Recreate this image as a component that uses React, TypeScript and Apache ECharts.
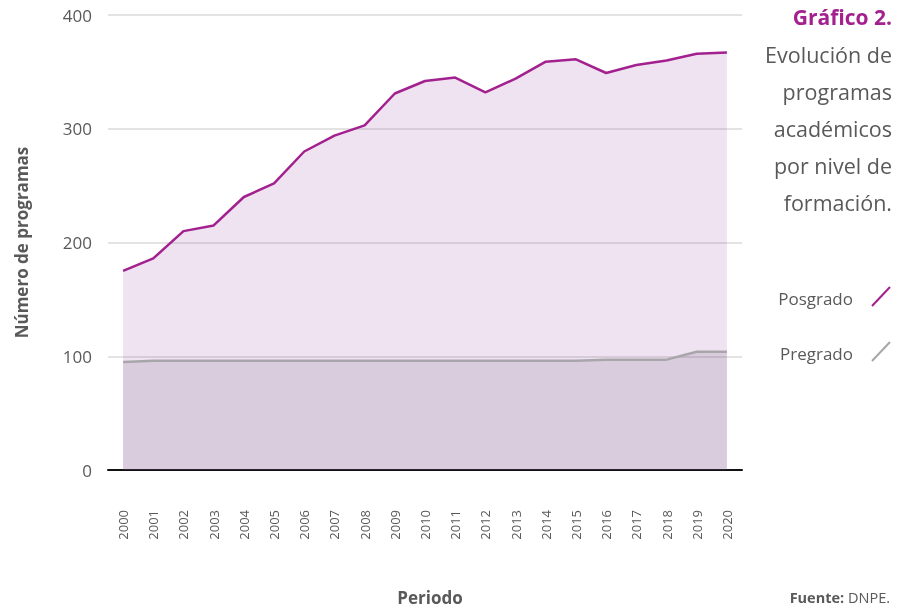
import React, { useEffect, useRef } from "react";
import * as echarts from "echarts";

const years = ["2000","2001","2002","2003","2004","2005","2006","2007","2008","2009","2010","2011","2012","2013","2014","2015","2016","2017","2018","2019","2020"];
const posgrado = [175, 186, 210, 215, 240, 252, 280, 294, 303, 331, 342, 345, 332, 344, 359, 361, 349, 356, 360, 366, 367];
const pregrado = [95, 96, 96, 96, 96, 96, 96, 96, 96, 96, 96, 96, 96, 96, 96, 96, 97, 97, 97, 104, 104];
const yMin = 0;
const yMax = 400;
const yInterval = 100;

const titleText = "Gráfico 2.";
const subtitleLines = ["Evolución de", "programas", "académicos", "por nivel de", "formación."];
const legendNames = ["Posgrado", "Pregrado"];
const xAxisName = "Periodo";
const yAxisName = "Número de programas";

const FONT = "'Open Sans', 'Noto Sans', sans-serif";
const MAGENTA = "#a3218e";
const GRAY = "#a9a6ab";
const TEXT = "#595959";

export default function App() {
  const ref = useRef<HTMLDivElement>(null);
  useEffect(() => {
    if (!ref.current) return;
    const chart = echarts.init(ref.current, null, { renderer: "svg" });
    chart.setOption({
      animation: false,
      textStyle: { fontFamily: FONT },
      grid: { left: 108, right: 156, top: 15, bottom: 137, containLabel: false, outerBoundsMode: "none" },
      xAxis: {
        type: "category",
        data: years,
        boundaryGap: true,
        axisLine: { show: true, lineStyle: { color: "#111", width: 2 } },
        axisTick: { show: false },
        axisLabel: { rotate: 90, margin: 40, fontSize: 13, color: TEXT, fontFamily: FONT },
      },
      yAxis: {
        type: "value",
        min: yMin,
        max: yMax,
        interval: yInterval,
        axisLine: { show: false },
        axisTick: { show: false },
        axisLabel: { fontSize: 17, color: TEXT, margin: 16, fontFamily: FONT },
        splitLine: { show: true, lineStyle: { color: "#e3e3e3", width: 2 } },
        name: yAxisName,
        nameLocation: "middle",
        nameRotate: 90,
        nameGap: 78,
        nameTextStyle: { fontSize: 17, fontWeight: "bold", color: TEXT, fontFamily: FONT },
      },
      series: [
        {
          name: legendNames[0],
          type: "line",
          data: posgrado,
          symbol: "none",
          lineStyle: { color: MAGENTA, width: 2.5 },
          itemStyle: { color: MAGENTA },
          areaStyle: { color: "rgba(150, 60, 160, 0.15)", opacity: 1 },
          z: 2,
        },
        {
          name: legendNames[1],
          type: "line",
          data: pregrado,
          symbol: "none",
          lineStyle: { color: GRAY, width: 2.5 },
          itemStyle: { color: GRAY },
          areaStyle: { color: "rgba(100, 90, 110, 0.16)", opacity: 1 },
          z: 3,
        },
      ],
      graphic: [
        {
          type: "text",
          x: 892,
          y: 17,
          style: {
            text: titleText,
            align: "right",
            verticalAlign: "middle",
            font: `bold 21px ${FONT}`,
            fill: MAGENTA,
          },
        },
        {
          type: "text",
          x: 892,
          y: 36,
          style: {
            text: subtitleLines.join("\n"),
            align: "right",
            verticalAlign: "top",
            font: `21.5px ${FONT}`,
            lineHeight: 37,
            fill: TEXT,
          },
        },
        {
          type: "text",
          x: 853,
          y: 298,
          style: { text: legendNames[0], align: "right", verticalAlign: "middle", font: `17px ${FONT}`, fill: TEXT },
        },
        {
          type: "line",
          shape: { x1: 872, y1: 306, x2: 890, y2: 287 },
          style: { stroke: MAGENTA, lineWidth: 2 },
        },
        {
          type: "text",
          x: 853,
          y: 353,
          style: { text: legendNames[1], align: "right", verticalAlign: "middle", font: `17px ${FONT}`, fill: TEXT },
        },
        {
          type: "line",
          shape: { x1: 872, y1: 361, x2: 890, y2: 342 },
          style: { stroke: GRAY, lineWidth: 2 },
        },
        {
          type: "text",
          x: 430,
          y: 597,
          style: { text: xAxisName, align: "center", verticalAlign: "middle", font: `bold 17px ${FONT}`, fill: TEXT },
        },
        {
          type: "text",
          x: 890,
          y: 597,
          style: {
            text: "{b|Fuente:} DNPE.",
            align: "right",
            verticalAlign: "middle",
            font: `14.5px ${FONT}`,
            fill: TEXT,
            rich: {
              b: { fontWeight: "bold", fontSize: 14.5, fill: TEXT, fontFamily: FONT },
            },
          },
        },
      ],
    });
    return () => chart.dispose();
  }, []);
  return <div ref={ref} style={{ position: "fixed", left: 0, top: 0, width: 898, height: 607 }} />;
}
